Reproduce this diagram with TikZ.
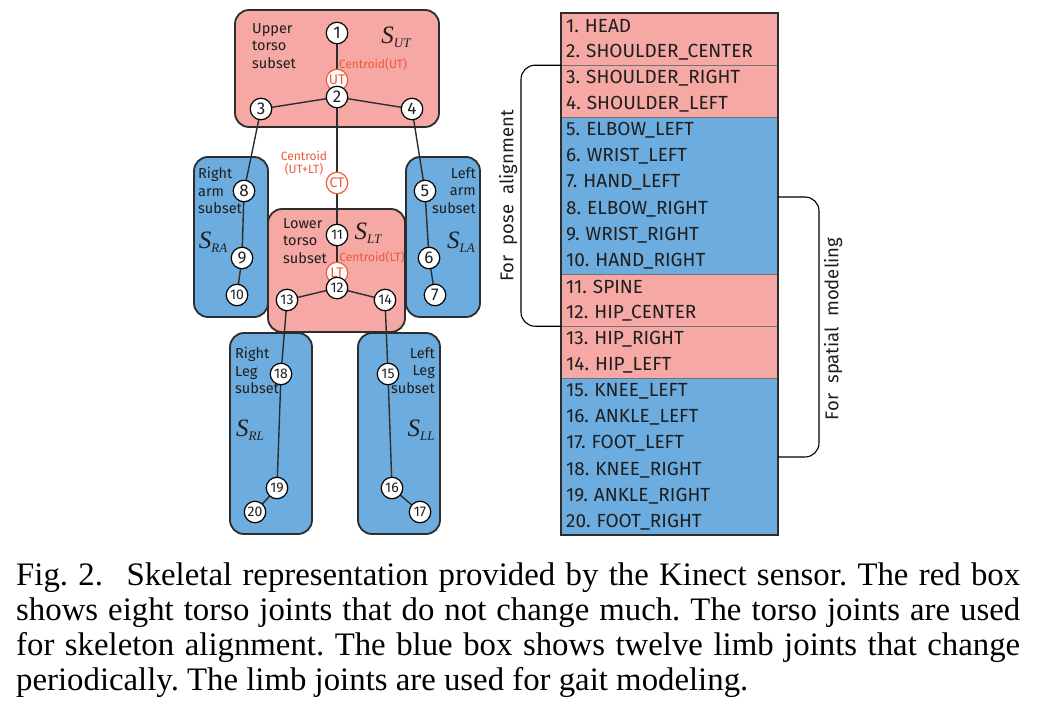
\documentclass[tikz,border=0pt]{standalone}
\usepackage{fontspec}
\setmainfont{Liberation Serif}
\setsansfont{Fira Sans}
\definecolor{torso}{RGB}{245,168,164}
\definecolor{limb}{RGB}{108,172,222}
\definecolor{bord}{RGB}{45,45,45}
\definecolor{cred}{RGB}{240,88,58}
\definecolor{txt}{RGB}{30,30,30}
\begin{document}
\frenchspacing
\begin{tikzpicture}[x=1pt,y=-1pt,
  region/.style={draw=bord, line width=1.8pt, rounded corners=14pt},
  bone/.style={line width=1.4pt, draw=bord},
  joint/.style={circle, draw=black, fill=white, line width=1.2pt, minimum size=21.5pt, inner sep=0pt, text=txt, font=\sffamily\fontsize{17}{17}\selectfont},
  jointb/.style={joint, font=\sffamily\fontsize{14}{14}\selectfont},
  cjoint/.style={joint, draw=cred, text=cred, font=\sffamily\fontsize{14}{14}\selectfont},
  lab/.style={font=\sffamily\fontsize{14.5}{17.5}\selectfont, text=txt, inner sep=0pt},
  clab/.style={font=\sffamily\fontsize{12}{13.5}\selectfont, text=cred, inner sep=0pt, align=center},
  slab/.style={font=\fontsize{25}{25}\selectfont\itshape, text=txt, inner sep=0pt},
  rowtxt/.style={font=\sffamily\fontsize{19}{19}\selectfont, text=txt, anchor=west, inner sep=0pt},
  sep/.style={draw=black!55, line width=0.9pt},
  bracket/.style={draw=black, line width=1.1pt, rounded corners=14pt},
  side/.style={font=\sffamily\fontsize{18.5}{18.5}\selectfont, text=txt, inner sep=0pt, rotate=90},
  capline/.style={font=\fontsize{32.8}{35}\selectfont, anchor=base west, inner sep=0pt}
]
\useasboundingbox (0,0) rectangle (1038,720);

% ---------- region boxes ----------
\draw[region, fill=torso] (235,10) rectangle (439,127);
\draw[region, fill=limb] (194,157) rectangle (268,317);
\draw[region, fill=limb] (406,157) rectangle (480,317);
\draw[region, fill=torso] (268,209) rectangle (405,332);
\draw[region, fill=limb] (230,333) rectangle (312,534);
\draw[region, fill=limb] (358,333) rectangle (440,534);

% ---------- joint coordinates ----------
\coordinate (p1) at (337,33);  \coordinate (put) at (337,80);
\coordinate (p2) at (337,97);  \coordinate (p3) at (261,109);
\coordinate (p4) at (412,109); \coordinate (pct) at (337,183);
\coordinate (p8) at (244,191); \coordinate (p9) at (242,258);
\coordinate (p10) at (237,295);
\coordinate (p5) at (425,191); \coordinate (p6) at (429,258);
\coordinate (p7) at (435,295);
\coordinate (p11) at (337,235); \coordinate (plt) at (337,273);
\coordinate (p12) at (337,288); \coordinate (p13) at (287,300);
\coordinate (p14) at (385,300);
\coordinate (p18) at (281,374); \coordinate (p19) at (277,488);
\coordinate (p20) at (255,512);
\coordinate (p15) at (388,374); \coordinate (p16) at (392,488);
\coordinate (p17) at (420,512);

% ---------- bones ----------
\draw[bone] (p1) -- (p2);
\draw[bone] (p2) -- (p3);
\draw[bone] (p2) -- (p4);
\draw[bone] (p2) -- (p11);
\draw[bone] (p3) -- (p8);
\draw[bone] (p8) -- (p9);
\draw[bone] (p9) -- (p10);
\draw[bone] (p4) -- (p5);
\draw[bone] (p5) -- (p6);
\draw[bone] (p6) -- (p7);
\draw[bone] (p11) -- (p12);
\draw[bone] (p12) -- (p13);
\draw[bone] (p12) -- (p14);
\draw[bone] (p13) -- (p18);
\draw[bone] (p18) -- (p19);
\draw[bone] (p19) -- (p20);
\draw[bone] (p14) -- (p15);
\draw[bone] (p15) -- (p16);
\draw[bone] (p16) -- (p17);

% ---------- joints ----------
\node[joint] (j1) at (p1) {1};
\node[cjoint] (ut) at (put) {UT};
\node[joint] (j2) at (p2) {2};
\node[joint] (j3) at (p3) {3};
\node[joint] (j4) at (p4) {4};
\node[cjoint] (ct) at (pct) {CT};
\node[joint] (j8) at (p8) {8};
\node[joint] (j9) at (p9) {9};
\node[jointb] (j10) at (p10) {10};
\node[joint] (j5) at (p5) {5};
\node[joint] (j6) at (p6) {6};
\node[joint] (j7) at (p7) {7};
\node[jointb] (j11) at (p11) {11};
\node[cjoint] (lt) at (plt) {LT};
\node[jointb] (j12) at (p12) {12};
\node[jointb] (j13) at (p13) {13};
\node[jointb] (j14) at (p14) {14};
\node[jointb] (j18) at (p18) {18};
\node[jointb] (j19) at (p19) {19};
\node[jointb] (j20) at (p20) {20};
\node[jointb] (j15) at (p15) {15};
\node[jointb] (j16) at (p16) {16};
\node[jointb] (j17) at (p17) {17};

% ---------- labels ----------
\node[lab, anchor=north west, align=left] (lut) at (252,23) {Upper\\torso\\subset};
\node[lab, anchor=north west, align=left] (llt) at (283,218) {Lower\\torso\\subset};
\node[lab, anchor=north west, align=left] (lra) at (198,167) {Right\\arm\\subset};
\node[lab, anchor=north east, align=right] (lla) at (476,167) {Left\\arm\\subset};
\node[lab, anchor=north west, align=left] (lrl) at (235,347) {Right\\Leg\\subset};
\node[lab, anchor=north east, align=right] (lll) at (435,347) {Left\\Leg\\subset};

\node[clab] (cut) at (373,64) {Centroid(UT)};
\node[clab] (clt) at (372,257) {Centroid(LT)};
\node[clab] (cct) at (304,163) {Centroid\\(UT+LT)};

\node[slab] (sut) at (396,37) {S\fontsize{13}{13}\selectfont\raisebox{-4pt}{UT}};
\node[slab] (slt) at (368,233) {S\fontsize{13}{13}\selectfont\raisebox{-4pt}{LT}};
\node[slab] (sra) at (213,242) {S\fontsize{13}{13}\selectfont\raisebox{-4pt}{RA}};
\node[slab] (sla) at (461,242) {S\fontsize{13}{13}\selectfont\raisebox{-4pt}{LA}};
\node[slab] (srl) at (250,430) {S\fontsize{13}{13}\selectfont\raisebox{-4pt}{RL}};
\node[slab] (sll) at (421,430) {S\fontsize{13}{13}\selectfont\raisebox{-4pt}{LL}};

% ---------- joint table ----------
\fill[torso] (561,13) rectangle (778,117.4);
\fill[limb] (561,117.4) rectangle (778,274);
\fill[torso] (561,274) rectangle (778,378.4);
\fill[limb] (561,378.4) rectangle (778,535);
\draw[sep] (561,65.2) -- (778,65.2);
\draw[sep] (561,117.4) -- (778,117.4);
\draw[sep] (561,274) -- (778,274);
\draw[sep] (561,326.2) -- (778,326.2);
\draw[sep] (561,378.4) -- (778,378.4);
\draw[draw=bord, line width=1.8pt] (561,13) rectangle (778,535);

\foreach \n/\t in {1/HEAD,2/SHOULDER\_CENTER,3/SHOULDER\_RIGHT,4/SHOULDER\_LEFT,
  5/ELBOW\_LEFT,6/WRIST\_LEFT,7/HAND\_LEFT,8/ELBOW\_RIGHT,9/WRIST\_RIGHT,
  10/HAND\_RIGHT,11/SPINE,12/HIP\_CENTER,13/HIP\_RIGHT,14/HIP\_LEFT,
  15/KNEE\_LEFT,16/ANKLE\_LEFT,17/FOOT\_LEFT,18/KNEE\_RIGHT,19/ANKLE\_RIGHT,
  20/FOOT\_RIGHT}
  \node[rowtxt] (r\n) at (566,{13+26.1*(\n-0.5)}) {\n.\hspace{6pt}\t};

% ---------- brackets ----------
\coordinate (pa1) at (561,65.2);
\coordinate (pa2) at (561,326.2);
\coordinate (sm1) at (778,197);
\coordinate (sm2) at (778,457);
\draw[bracket] (pa1) -- ++(-40,0) |- (pa2);
\draw[bracket] (sm1) -- ++(41,0) |- (sm2);
\node[side] (tpa) at (508,196) {For\hspace{0.55em}pose\hspace{0.55em}alignment};
\node[side] (tsm) at (833,329) {For\hspace{0.55em}spatial\hspace{0.55em}modeling};

% ---------- caption ----------
\node[capline] (cap1) at (16,585) {\makebox[1004pt][s]{Fig. 2.\hspace{0.4em} Skeletal representation provided by the Kinect sensor. The red box}};
\node[capline] (cap2) at (16,620) {\makebox[1004pt][s]{shows eight torso joints that do not change much. The torso joints are used}};
\node[capline] (cap3) at (16,655) {\makebox[1004pt][s]{for skeleton alignment. The blue box shows twelve limb joints that change}};
\node[capline] (cap4) at (16,690) {periodically. The limb joints are used for gait modeling.};
\end{tikzpicture}
\end{document}
